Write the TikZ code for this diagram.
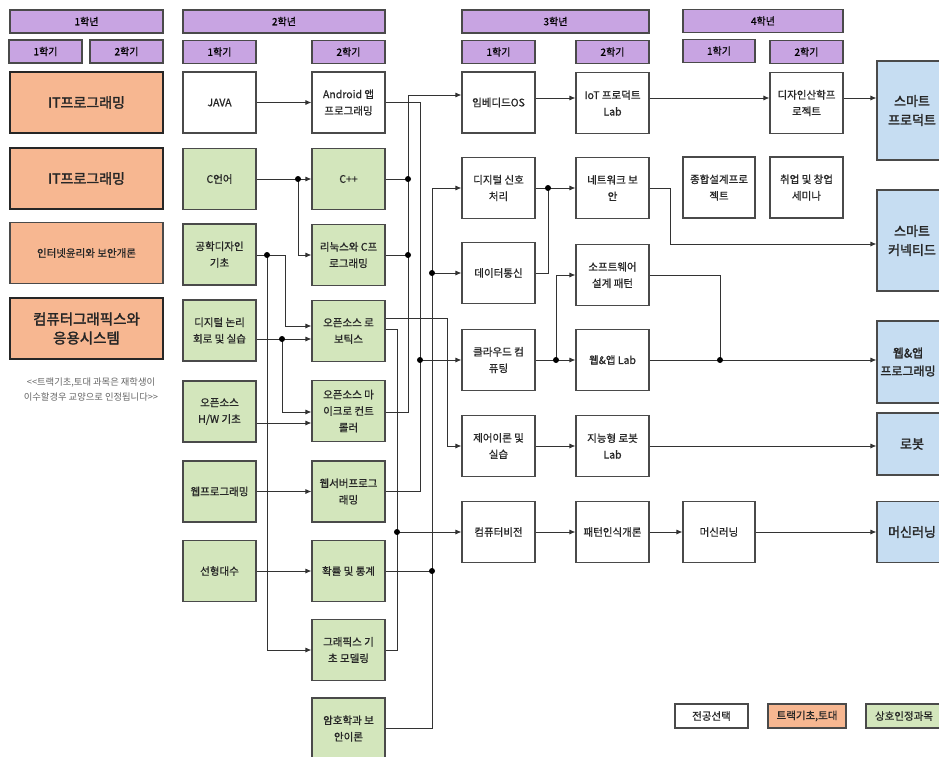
\documentclass[tikz,border=0pt]{standalone}
\usepackage{fontspec}
\setmainfont{Noto Sans CJK KR}[AutoFakeBold=2]
\newfontfamily\medfont{Noto Sans CJK KR}[FakeBold=0.8]
\usetikzlibrary{arrows.meta,calc}
\definecolor{purp}{HTML}{C8A4E2}
\definecolor{orng}{HTML}{F7B791}
\definecolor{grn}{HTML}{D3E6BC}
\definecolor{blu}{HTML}{C6DDF2}
\definecolor{edgec}{HTML}{4A4A4A}
\definecolor{wirec}{HTML}{333333}
\begin{document}
\begin{tikzpicture}[x=1pt,y=-1pt,
 box/.style={draw=edgec,line width=1.1pt,align=center,inner sep=1pt,minimum width=73pt,minimum height=61pt,font=\medfont\fontsize{10.5}{16.5}\selectfont,text=black!85},
 wbox/.style={box,fill=white},
 gbox/.style={box,fill=grn},
 obox/.style={box,fill=orng,minimum width=153pt,draw=black!85,line width=1.8pt},
 bbox/.style={box,fill=blu,minimum width=70pt,font=\fontsize{13}{19}\selectfont\bfseries},
 hdr/.style={draw=edgec,line width=1.2pt,fill=purp,minimum height=23pt,inner sep=0pt,font=\medfont\fontsize{10}{11}\selectfont},
 lgd/.style={box,minimum height=24pt},
 wire/.style={draw=wirec,line width=0.9pt},
 arr/.style={wire,-{Latex[length=6pt,width=5pt]}},
 dot/.style={circle,fill=black,inner sep=0pt,minimum size=6pt},
 note/.style={align=center,font=\fontsize{9.3}{14.5}\selectfont,text=black!60},
]
\useasboundingbox (0,0) rectangle (939,757);
\clip (0,0) rectangle (939,757);
\fill[white] (0,0) rectangle (939,757);

% headers
\node[hdr,minimum width=153pt] (y1) at (86.5,21.5) {1학년};
\node[hdr,minimum width=73pt] (y1s1) at (45.5,51.5) {1학기};
\node[hdr,minimum width=73pt] (y1s2) at (126.5,51.5) {2학기};
\node[hdr,minimum width=202pt] (y2) at (284,21.5) {2학년};
\node[hdr,minimum width=73pt] (y2s1) at (219.5,52) {1학기};
\node[hdr,minimum width=73pt] (y2s2) at (348.5,52) {2학기};
\node[hdr,minimum width=187pt] (y3) at (555.5,21.5) {3학년};
\node[hdr,minimum width=73pt] (y3s1) at (498.5,52) {1학기};
\node[hdr,minimum width=73pt] (y3s2) at (612.5,52) {2학기};
\node[hdr,minimum width=160pt] (y4) at (763,21) {4학년};
\node[hdr,minimum width=72pt] (y4s1) at (719,51) {1학기};
\node[hdr,minimum width=73pt] (y4s2) at (806.5,52) {2학기};

% year 1
\node[obox,font=\fontsize{14}{18}\selectfont\bfseries] (it1) at (86.5,102.5) {IT프로그래밍};
\node[obox,font=\fontsize{14}{18}\selectfont\bfseries] (it2) at (86.5,178.5) {IT프로그래밍};
\node[obox,draw=edgec,line width=1.1pt,font=\medfont\fontsize{10.5}{14}\selectfont] (inet) at (86.5,253) {인터넷윤리와 보안개론};
\node[obox,font=\fontsize{14.5}{19}\selectfont\bfseries] (cg) at (86.5,328.5) {컴퓨터그래픽스와\\응용시스템};
\node[note] (nt) at (91,389.5) {{<}{<}트랙기초,토대 과목은 재학생이\\이수할경우 교양으로 인정됩니다{>}{>}};

% year 2, sem 1
\node[wbox] (java) at (219.5,102.5) {JAVA};
\node[gbox] (clang) at (219.5,179) {C언어};
\node[gbox] (engd) at (219.5,254.5) {공학디자인\\기초};
\node[gbox] (dlogic) at (219.5,330.5) {디지털 논리\\회로 및 실습};
\node[gbox] (oshw) at (219.5,411.5) {오픈소스\\H/W 기초};
\node[gbox] (webp) at (219.5,491.5) {웹프로그래밍};
\node[gbox] (linalg) at (219.5,571) {선형대수};

% year 2, sem 2
\node[wbox] (android) at (348.5,102.5) {Android 앱\\프로그래밍};
\node[gbox] (cpp) at (348.5,179) {C++};
\node[gbox] (linux) at (348.5,255) {리눅스와 C프\\로그래밍};
\node[gbox] (robot) at (348.5,331) {오픈소스 로\\보틱스};
\node[gbox] (micro) at (348.5,411) {오픈소스 마\\이크로 컨트\\롤러};
\node[gbox] (websrv) at (348.5,491.5) {웹서버프로그\\래밍};
\node[gbox] (prob) at (348.5,571) {확률 및 통계};
\node[gbox] (graph) at (348.5,650) {그래픽스 기\\초 모델링};
\node[gbox] (crypto) at (348.5,728.5) {암호학과 보\\안이론};

% year 3, sem 1
\node[wbox] (embos) at (498.5,102.5) {임베디드OS};
\node[wbox] (dsp) at (498.5,188) {디지털 신호\\처리};
\node[wbox] (datacom) at (498.5,273) {데이터통신};
\node[wbox] (cloud) at (498.5,360) {클라우드 컴\\퓨팅};
\node[wbox] (ctrl) at (498.5,446) {제어이론 및\\실습};
\node[wbox] (cv) at (498.5,532) {컴퓨터비전};

% year 3, sem 2
\node[wbox] (iot) at (612.5,103) {IoT 프로덕트\\Lab};
\node[wbox] (netsec) at (612.5,188) {네트워크 보\\안};
\node[wbox] (swdp) at (612.5,275) {소프트웨어\\설계 패턴};
\node[wbox] (wal) at (612.5,360) {웹\&앱 Lab};
\node[wbox] (rlab) at (612.5,446) {지능형 로봇\\Lab};
\node[wbox] (patrec) at (612.5,532) {패턴인식개론};

% year 4
\node[wbox,minimum width=72pt] (capstone) at (719,187.5) {종합설계프로\\젝트};
\node[wbox,minimum width=72pt] (ml) at (719,532) {머신러닝};
\node[wbox] (design) at (806.5,103) {디자인산학프\\로젝트};
\node[wbox] (seminar) at (806.5,187.5) {취업 및 창업\\세미나};

% tracks
\node[bbox,minimum height=99pt] (sprod) at (912,110.5) {스마트\\프로덕트};
\node[bbox,minimum height=101pt] (sconn) at (912,240.5) {스마트\\커넥티드};
\node[bbox,minimum height=82pt] (wapp) at (912,362) {};
\node[font=\fontsize{12}{18}\selectfont\bfseries,align=center,text=black!85,inner sep=0pt] (wappt) at (908,362) {웹\&앱\\프로그래밍};
\node[bbox,minimum height=62pt] (rob) at (912,444) {로봇};
\node[bbox,minimum height=61pt] (mlb) at (912,532) {머신러닝};

% legend
\node[lgd,fill=white,minimum width=73pt] (lg1) at (711.5,716) {전공선택};
\node[lgd,fill=orng,minimum width=78pt] (lg2) at (807,716) {트랙기초,토대};
\node[lgd,fill=grn,minimum width=76pt] (lg3) at (904,716) {상호인정과목};

% junctions
\coordinate (jA) at (298,179);
\coordinate (jB) at (267,255);
\coordinate (jC) at (282,339);
\coordinate (d408a) at (408,179);
\coordinate (d408b) at (408,255);
\coordinate (t408) at (408,95);
\coordinate (d420) at (420,360);
\coordinate (b420) at (420,491.5);
\coordinate (d397) at (397,532);
\coordinate (b397) at (397,650);
\coordinate (d432a) at (432,273);
\coordinate (d432b) at (432,571);
\coordinate (t432) at (432,188);
\coordinate (b447) at (447,446);
\coordinate (jD) at (548,188);
\coordinate (c670) at (670,244);
\coordinate (jE) at (556,360);
\coordinate (jF) at (720,360);

% year 2 connectors
\draw[arr] (java) -- (android);
\draw[wire] (clang) -- (jA);
\draw[arr] (jA) -- (cpp);
\draw[arr] (jA) |- (linux);
\draw[wire] (engd.east |- jB) -- (jB);
\draw[arr] (jB) -- ++(18,0) |- (robot.west |- 0,326);
\draw[arr] (jB) |- (graph.west);
\draw[wire] (dlogic.east |- jC) -- (jC);
\draw[arr] (jC) -- (robot.west |- jC);
\draw[arr] (jC) |- (micro.west |- 0,412);
\draw[arr] (oshw.east |- 0,423) -- (micro.west |- 0,423);
\draw[arr] (webp) -- (websrv);
\draw[arr] (linalg) -- (prob);

% buses to year 3
\draw[wire] (cpp) -- (d408a);
\draw[wire] (linux) -- (d408b);
\draw[arr] (micro.east |- 0,412) -| (t408) -- (embos.west |- t408);
\draw[wire] (android.east) -| (b420) -- (websrv.east);
\draw[arr] (d420) -- (cloud.west |- d420);
\draw[wire] (robot.east |- 0,329) -| (b397) -- (graph.east);
\draw[arr] (d397) -- (cv.west |- d397);
\draw[arr] (crypto.east) -| (t432) -- (dsp.west);
\draw[wire] (prob) -- (d432b);
\draw[arr] (d432a) -- (datacom.west |- d432a);
\draw[arr] (robot.east |- 0,318) -| (b447) -- (ctrl.west);

% year 3 and 4 connectors
\draw[arr] (embos.east |- 0,98) -- (iot.west |- 0,98);
\draw[arr] (iot.east |- 0,98) -- (design.west |- 0,98);
\draw[arr] (design.east |- 0,98) -- (sprod.west |- 0,98);
\draw[wire] (dsp) -- (jD);
\draw[arr] (jD) -- (netsec);
\draw[wire] (datacom) -| (jD);
\draw[arr] (netsec) -| (c670) -- (sconn.west |- c670);
\draw[wire] (cloud) -- (jE);
\draw[arr] (jE) -- (wal);
\draw[arr] (jE) |- (swdp);
\draw[wire] (swdp) -| (jF);
\draw[wire] (wal) -- (jF);
\draw[arr] (jF) -- (wapp.west |- jF);
\draw[arr] (ctrl) -- (rlab);
\draw[arr] (rlab) -- (rob.west |- rlab);
\draw[arr] (cv) -- (patrec);
\draw[arr] (patrec) -- (ml);
\draw[arr] (ml) -- (mlb);

% dots
\foreach \p in {jA,jB,jC,d408a,d408b,d420,d397,d432a,d432b,jD,jE,jF}
  \node[dot] at (\p) {};
\end{tikzpicture}
\end{document}
